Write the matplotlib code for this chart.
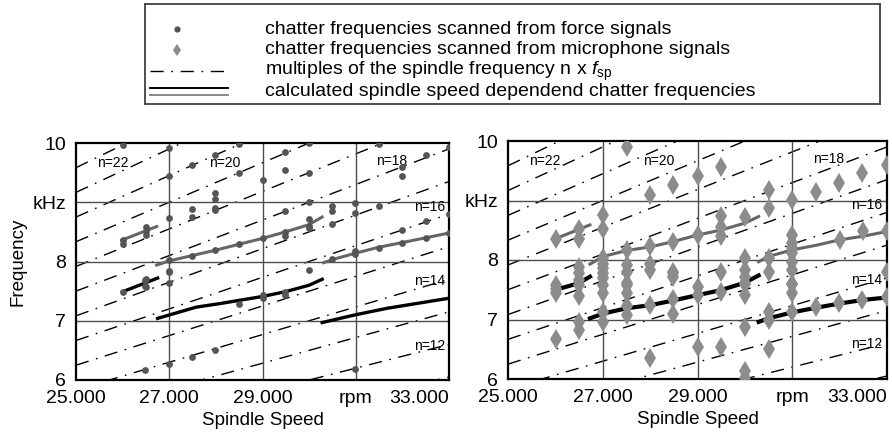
import matplotlib.pyplot as plt

plt.rcParams['font.family'] = ['Liberation Sans', 'DejaVu Sans']
plt.rcParams['mathtext.fontset'] = 'custom'
plt.rcParams['mathtext.rm'] = 'Liberation Sans'
plt.rcParams['mathtext.it'] = 'Liberation Sans:italic'
plt.rcParams['lines.scale_dashes'] = False

# ---- data ----
rpm_range = [25000, 33000]
harmonics = list(range(11, 25))          # n for the n x f_sp lines

x_ticks = [25000, 27000, 29000, 31000, 33000]
x_labels = ['25.000', '27.000', '29.000', 'rpm', '33.000']
y_ticks = [6, 7, 8, 9, 10]
y_labels = ['6', '7', '8', 'kHz', '10']

n_text = ['n=22', 'n=20', 'n=18', 'n=16', 'n=14', 'n=12']
n_rpm = [25450, 27860, 31430, 32250, 32250, 32250]
n_freq = [9.66, 9.66, 9.69, 8.92, 7.67, 6.58]

# calculated chatter frequencies, left plot (force)
left_gray = [
    ([25980, 26730], [8.36, 8.59]),
    ([26730, 27000, 27490, 27990, 28490, 29000, 29490, 29990, 30280],
     [7.94, 8.01, 8.10, 8.19, 8.29, 8.39, 8.50, 8.62, 8.75]),
    ([30310, 30490, 30990, 31490, 32000, 32500, 33000],
     [7.98, 8.03, 8.14, 8.24, 8.32, 8.40, 8.48]),
]
left_black = [
    ([26000, 26750], [7.49, 7.72]),
    ([26750, 27580, 28090, 29000, 29490, 30000, 30280],
     [7.04, 7.23, 7.29, 7.41, 7.49, 7.60, 7.70]),
    ([30280, 30990, 31670, 33000], [6.97, 7.10, 7.21, 7.38]),
]
# calculated chatter frequencies, right plot (microphone)
right_gray = [
    ([26010, 26730], [8.36, 8.59]),
    ([26730, 27010, 27510, 28000, 28490, 29000, 29480, 30000, 30290],
     [7.93, 8.06, 8.16, 8.22, 8.31, 8.42, 8.50, 8.62, 8.73]),
    ([30290, 30500, 31000, 31520, 32010, 32500, 33000],
     [7.97, 8.06, 8.17, 8.25, 8.34, 8.40, 8.48]),
]
right_black = [
    ([26010, 26490, 26730], [7.50, 7.61, 7.72]),
    ([26730, 27010, 27510, 28000, 28490, 29000, 29480, 30000, 30290],
     [7.02, 7.10, 7.19, 7.24, 7.32, 7.41, 7.49, 7.62, 7.74]),
    ([30290, 30500, 31000, 31520, 32010, 32500, 33000],
     [6.96, 7.02, 7.12, 7.20, 7.27, 7.33, 7.37]),
]

# chatter frequencies scanned from force signals
force_rpm = [26000, 27000, 27000, 27000, 27000, 27490, 27490, 27990, 27990, 27990,
             27990, 27990, 27490, 26000, 26000, 26500, 26500, 26500, 26500, 26500,
             27000, 27490, 27990, 26000, 26490, 26490, 27000, 27000, 26490, 27000,
             27490, 27990, 28490, 28490, 29000, 29490, 29490, 29990, 29990, 29990,
             29490, 29990, 30500, 30500, 30500, 30990, 30990, 31490, 31490, 32000,
             32000, 32000, 32500, 32500, 33000, 33000, 28490, 29000, 29490, 29490,
             29990, 29990, 30500, 30990, 30990, 31490, 32000, 32500, 33000, 29990,
             28490, 29000, 29000, 29490, 29490, 30990]
force_freq = [9.97, 9.91, 9.45, 8.73, 7.84, 8.89, 8.75, 9.80, 9.15, 9.05,
              8.91, 8.87, 9.63, 8.36, 8.29, 8.59, 8.52, 8.45, 7.70, 7.57,
              8.03, 8.10, 8.19, 7.49, 7.69, 7.59, 7.83, 7.64, 6.17, 6.27,
              6.39, 6.51, 9.99, 9.50, 9.38, 9.84, 9.54, 10.0, 9.50, 9.01,
              8.85, 8.71, 8.93, 8.86, 8.64, 8.99, 8.82, 9.98, 8.93, 9.60,
              9.44, 8.54, 9.80, 8.69, 9.93, 8.81, 8.29, 8.39, 8.50, 8.43,
              8.56, 8.60, 8.04, 8.17, 8.13, 8.23, 8.32, 8.39, 8.48, 7.86,
              7.29, 7.43, 7.38, 7.49, 7.43, 6.18]

# chatter frequencies scanned from microphone signals
mic_rpm = [27510, 27010, 27010, 28000, 28490, 26010, 26490, 26490, 27510, 28000,
           28490, 27010, 27010, 27010, 27010, 27010, 27010, 26490, 26490, 26490,
           27510, 27510, 27510, 28000, 28000, 28490, 28490, 26010, 26010, 26010,
           26490, 26490, 27010, 27010, 27010, 26490, 26490, 26010, 27510, 27510,
           27510, 27510, 28000, 28000, 28490, 28490, 29000, 29490, 30500, 30500,
           31000, 31500, 31990, 32480, 33000, 29000, 29490, 29490, 29490, 30000,
           30500, 30000, 31000, 31000, 31000, 31000, 31000, 31000, 31000, 32010,
           32500, 33000, 28490, 29000, 29490, 30000, 30000, 30000, 30500, 33000,
           29000, 29490, 30000, 30000, 30000, 29000, 29490, 30000, 30000, 30500,
           30500, 30500, 31000, 31000, 31000, 31500, 31990, 32480, 33000]
mic_freq = [9.90, 8.76, 8.52, 9.09, 9.26, 8.35, 8.52, 8.36, 8.16, 8.24,
            8.30, 8.03, 7.94, 7.86, 7.78, 7.69, 7.58, 7.89, 7.78, 7.66,
            7.92, 7.80, 7.61, 7.94, 7.83, 7.80, 7.72, 7.58, 7.52, 7.44,
            7.58, 7.39, 7.45, 7.13, 6.95, 6.95, 6.82, 6.68, 7.58, 7.44,
            7.23, 7.08, 7.24, 6.36, 7.34, 7.10, 9.41, 9.57, 9.18, 8.87,
            9.01, 9.15, 9.30, 9.46, 9.60, 8.42, 8.74, 8.56, 8.40, 8.72,
            8.03, 8.03, 8.42, 8.28, 8.20, 8.11, 7.97, 7.83, 7.60, 8.34,
            8.48, 8.48, 7.78, 7.55, 7.79, 7.83, 7.72, 7.61, 7.80, 7.80,
            7.41, 7.47, 7.60, 7.41, 6.88, 6.54, 6.54, 6.14, 6.01, 7.13,
            6.99, 6.50, 7.60, 7.44, 7.13, 7.21, 7.28, 7.33, 7.37]

DASHDOT = (0, (9.5, 5.5, 1.2, 5.5))

fig = plt.figure(figsize=(8.92, 4.38), dpi=100)
ax1 = fig.add_axes([76 / 892, 58 / 438, 373 / 892, 237 / 438])
ax2 = fig.add_axes([508 / 892, 59 / 438, 379 / 892, 238 / 438])


def base(ax):
    for n in harmonics:
        ax.plot(rpm_range, [n * r / 60000 for r in rpm_range], color='black',
                lw=1.0, linestyle=DASHDOT, zorder=1)
    for x in x_ticks[1:4]:
        ax.axvline(x, color='0.3', lw=1.0, zorder=1)
    for y in y_ticks[1:4]:
        ax.axhline(y, color='0.3', lw=1.0, zorder=1)
    ax.set_xlim(25000, 33000)
    ax.set_ylim(6, 10)
    ax.set_xticks(x_ticks)
    ax.set_xticklabels(x_labels, fontsize=14)
    ax.get_xticklabels()[-1].set_ha('right')
    ax.set_yticks(y_ticks)
    ax.set_yticklabels(y_labels, fontsize=14)
    ax.tick_params(length=0, pad=7)
    for s in ax.spines.values():
        s.set_linewidth(1.6)
    ax.set_xlabel('Spindle Speed', fontsize=13.5, labelpad=4)
    for t, x, y in zip(n_text, n_rpm, n_freq):
        ax.text(x, y, t, fontsize=10, ha='left', va='center', zorder=2)


base(ax1)
base(ax2)
ax1.set_ylabel('Frequency', fontsize=13.5, labelpad=4)

for xs, ys in left_gray:
    ax1.plot(xs, ys, color='#666666', lw=2.2, zorder=3)
for xs, ys in left_black:
    ax1.plot(xs, ys, color='black', lw=2.4, zorder=3)
ax1.scatter(force_rpm, force_freq, s=24, color='#555555', zorder=4, linewidths=0)

for xs, ys in right_gray:
    ax2.plot(xs, ys, color='#666666', lw=2.2, zorder=3)
for xs, ys in right_black:
    ax2.plot(xs, ys, color='black', lw=3.0, zorder=3)
ax2.plot(mic_rpm, mic_freq, linestyle='none', marker='d', markersize=10,
         color='#8c8c8c', markeredgewidth=0, zorder=4)

# legend box (pixel coordinates of the box)
lg = fig.add_axes([145 / 892, 1 - 104 / 438, 735 / 892, 100 / 438])
lg.set_xlim(145, 880)
lg.set_ylim(104, 4)
lg.set_xticks([])
lg.set_yticks([])
for s in lg.spines.values():
    s.set_linewidth(1.3)
    s.set_color('0.25')
lg.plot([177], [29], marker='o', markersize=4.5, color='#555555', mew=0)
lg.plot([177], [50], marker='d', markersize=6, color='#8c8c8c', mew=0)
lg.plot([150, 226], [71, 71], color='black', lw=1.0, linestyle=DASHDOT)
lg.plot([150, 228], [88, 88], color='black', lw=1.4)
lg.plot([150, 228], [95, 95], color='#888888', lw=1.4)
legend_text = ['chatter frequencies scanned from force signals',
               'chatter frequencies scanned from microphone signals',
               r'multiples of the spindle frequency n x $f_{\mathrm{sp}}$',
               'calculated spindle speed dependend chatter frequencies']
for t, y in zip(legend_text, [29, 50, 71, 92]):
    lg.text(265, y, t, fontsize=14, va='center', ha='left')

fig.savefig('out.png', dpi=100)
